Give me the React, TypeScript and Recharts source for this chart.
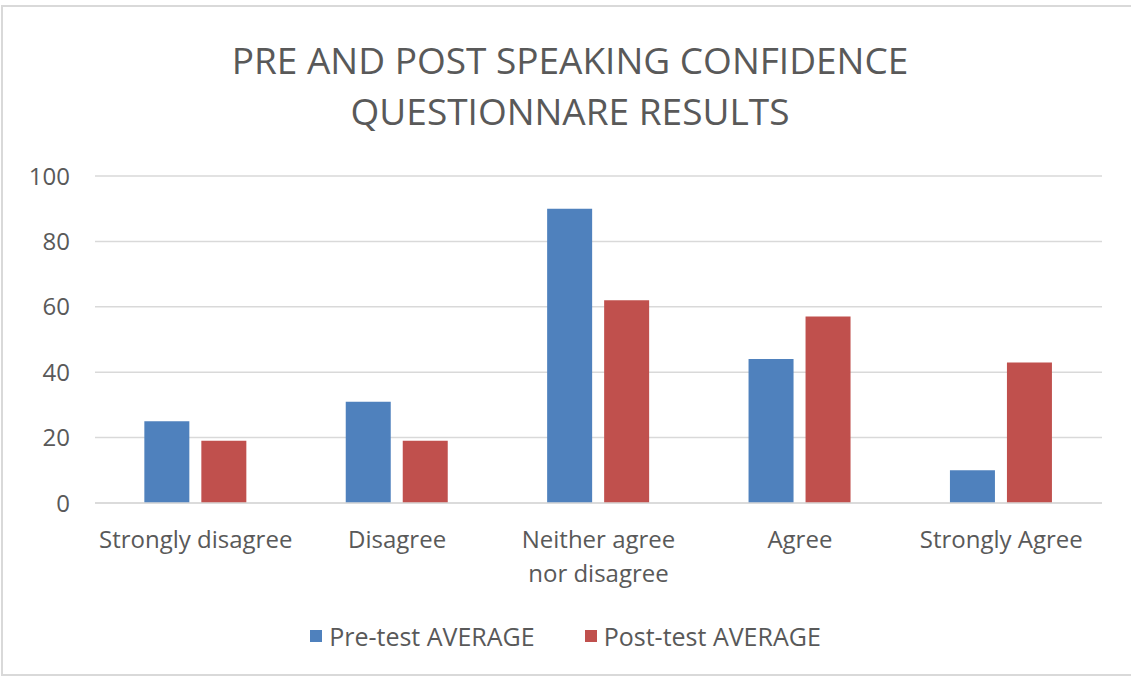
import { Bar, BarChart, CartesianGrid, XAxis, YAxis } from "recharts";

const categories = ["Strongly disagree", "Disagree", "Neither agree nor disagree", "Agree", "Strongly Agree"];
const preTest = [25, 31, 90, 44, 10];
const postTest = [19, 19, 62, 57, 43];
const yTicks = [0, 20, 40, 60, 80, 100];

const seriesNames = ["Pre-test AVERAGE", "Post-test AVERAGE"];
const colors = ["#4F81BD", "#C0504D"];

const data = categories.map((name, i) => ({ name, pre: preTest[i], post: postTest[i] }));

const font = "'Open Sans', sans-serif";
const textColor = "#595959";

function wrapLabel(label: string): string[] {
  if (label.length <= 18) return [label];
  const words = label.split(" ");
  const half = Math.ceil(words.length / 2);
  return [words.slice(0, half).join(" "), words.slice(half).join(" ")];
}

function CategoryTick({ x, y, payload }: any) {
  const lines = wrapLabel(payload.value);
  return (
    <text x={x} y={y} textAnchor="middle" fill={textColor} fontSize={24} fontFamily={font}>
      {lines.map((line, i) => (
        <tspan key={i} x={x} dy={i === 0 ? 37 : 34}>
          {line}
        </tspan>
      ))}
    </text>
  );
}

export default function App() {
  return (
    <div style={{ position: "absolute", left: 0, top: 0, width: 1131, height: 679, background: "#fff", overflow: "hidden" }}>
      <div
        style={{
          position: "absolute",
          left: 1,
          top: 5,
          width: 1140,
          height: 671,
          border: "2px solid #d9d9d9",
          boxSizing: "border-box",
        }}
      />
      <div
        style={{
          position: "absolute",
          left: 0,
          top: 34,
          width: 1140,
          textAlign: "center",
          fontFamily: font,
          fontSize: 37,
          lineHeight: "51px",
          color: textColor,
        }}
      >
        PRE AND POST SPEAKING CONFIDENCE
        <br />
        QUESTIONNARE RESULTS
      </div>
      <BarChart
        width={1131}
        height={679}
        data={data}
        margin={{ top: 176, right: 29, bottom: 0, left: 35 }}
        barCategoryGap="24.5%"
        barGap={12}
        style={{ position: "absolute", left: 0, top: 0 }}
      >
        <CartesianGrid vertical={false} stroke="#d9d9d9" strokeWidth={1.5} />
        <XAxis
          dataKey="name"
          tick={<CategoryTick />}
          tickLine={false}
          axisLine={{ stroke: "#d9d9d9", strokeWidth: 1.5 }}
          height={176}
          interval={0}
        />
        <YAxis
          domain={[0, 100]}
          ticks={yTicks}
          width={60}
          tickLine={false}
          axisLine={false}
          tickMargin={19}
          tick={{ fill: textColor, fontSize: 24, fontFamily: font }}
        />
        <Bar dataKey="pre" name={seriesNames[0]} fill={colors[0]} isAnimationActive={false} />
        <Bar dataKey="post" name={seriesNames[1]} fill={colors[1]} isAnimationActive={false} />
      </BarChart>
      <div
        style={{
          position: "absolute",
          left: 0,
          top: 619,
          width: 1131,
          height: 34,
          display: "flex",
          justifyContent: "center",
          alignItems: "center",
          gap: 50,
          fontFamily: font,
          fontSize: 25,
          color: textColor,
        }}
      >
        {seriesNames.map((s, i) => (
          <div key={s} style={{ display: "flex", alignItems: "center", gap: 7 }}>
            <span style={{ width: 12, height: 12, background: colors[i], display: "inline-block" }} />
            <span>{s}</span>
          </div>
        ))}
      </div>
    </div>
  );
}
